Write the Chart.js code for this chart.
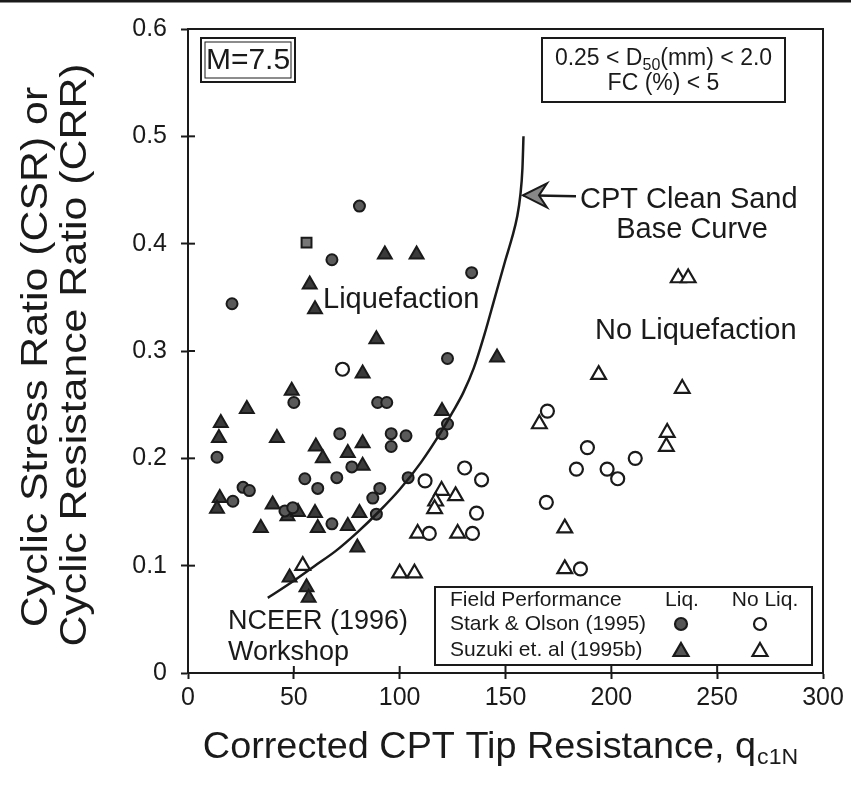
<!DOCTYPE html>
<html>
<head>
<meta charset="utf-8">
<script src="https://cdn.jsdelivr.net/npm/chart.js@4.4.1/dist/chart.umd.min.js"></script>
<style>
html, body { margin: 0; padding: 0; background: #fff; }
</style>
</head>
<body>
<canvas id="chart" width="851" height="785"></canvas>
<script>
// axis ticks
var xTicks = [0, 50, 100, 150, 200, 250, 300];
var yTicks = [0, 0.1, 0.2, 0.3, 0.4, 0.5, 0.6];

// CPT clean sand base curve
var curveX = [37.7, 50, 60, 70, 80, 90, 100, 110, 120, 125, 130, 135, 140, 145, 150, 153, 155.5, 157, 158, 158.5];
var curveY = [0.070, 0.086, 0.100, 0.114, 0.131, 0.150, 0.171, 0.196, 0.226, 0.243, 0.261, 0.284, 0.315, 0.350, 0.385, 0.405, 0.425, 0.445, 0.470, 0.500];

// Stark & Olson (1995) - liquefaction (filled circles)
var starkLiqX = [20.8, 81, 68, 134, 122.6, 50, 13.7, 71.7, 55.2, 61.3, 70.3, 26, 29, 21.2, 45.8, 49.5, 68, 89.6, 93.9, 122.6, 120, 96, 96, 103, 77.4, 104, 90.6, 87.3, 89];
var starkLiqY = [0.344, 0.435, 0.385, 0.373, 0.293, 0.252, 0.201, 0.223, 0.181, 0.172, 0.182, 0.173, 0.170, 0.160, 0.151, 0.154, 0.139, 0.252, 0.252, 0.232, 0.223, 0.223, 0.211, 0.221, 0.192, 0.182, 0.172, 0.163, 0.148];

// Stark & Olson (1995) - no liquefaction (open circles)
var starkNoX = [73, 112, 130.7, 138.7, 136.3, 114, 134.4, 169.8, 188.7, 211.3, 183.5, 198, 203, 169.3, 185.4];
var starkNoY = [0.283, 0.179, 0.191, 0.180, 0.149, 0.130, 0.130, 0.244, 0.210, 0.200, 0.190, 0.190, 0.181, 0.159, 0.097];

// Suzuki et al (1995b) - liquefaction (filled triangles)
var suzukiLiqX = [49, 27.8, 15.5, 14.6, 42, 60.4, 63.7, 75.5, 82.5, 82.5, 15, 13.7, 40, 47, 52, 34.4, 60, 61.3, 75.5, 81, 80, 48, 56, 57, 93, 108, 89, 82.5, 57.5, 60, 146, 120];
var suzukiLiqY = [0.263, 0.246, 0.233, 0.219, 0.219, 0.211, 0.200, 0.205, 0.193, 0.214, 0.163, 0.153, 0.157, 0.146, 0.150, 0.135, 0.149, 0.135, 0.137, 0.149, 0.117, 0.089, 0.080, 0.070, 0.390, 0.390, 0.311, 0.279, 0.362, 0.339, 0.294, 0.244];

// Suzuki et al (1995b) - no liquefaction (open triangles)
var suzukiNoX = [54.2, 119.8, 117, 116.5, 126.4, 108.5, 127.4, 100, 107, 194, 233.5, 166, 226.4, 226, 178, 178, 231.6, 236.3];
var suzukiNoY = [0.100, 0.170, 0.160, 0.153, 0.165, 0.130, 0.130, 0.093, 0.093, 0.278, 0.265, 0.232, 0.224, 0.211, 0.135, 0.097, 0.368, 0.368];

// single boxed liquefaction point
var boxLiqX = [56];
var boxLiqY = [0.401];

var FONT = '"Liberation Sans", Arial, sans-serif';
var INK = '#1a1a1a';

function pts(xs, ys) {
    return xs.map(function(x, i) { return { x: x, y: ys[i] }; });
}

// text and boxes drawn on top of the plot
var decorPlugin = {
    id: 'decor',
    afterDraw: function(chart) {
        var ctx = chart.ctx;
        var a = chart.chartArea;
        var sx = chart.scales.x, sy = chart.scales.y;
        function X(v) { return sx.getPixelForValue(v); }
        function Y(v) { return sy.getPixelForValue(v); }

        ctx.save();
        ctx.strokeStyle = INK;
        ctx.fillStyle = INK;

        // page edge line at the very top
        ctx.lineWidth = 3;
        ctx.beginPath(); ctx.moveTo(0, 1); ctx.lineTo(851, 1); ctx.stroke();

        // frame
        ctx.lineWidth = 2;
        ctx.strokeRect(a.left, a.top, a.right - a.left, a.bottom - a.top);

        // inner tick halves
        yTicks.forEach(function(v) {
            ctx.beginPath(); ctx.moveTo(a.left, Y(v)); ctx.lineTo(a.left + 7, Y(v)); ctx.stroke();
        });
        xTicks.forEach(function(v) {
            ctx.beginPath(); ctx.moveTo(X(v), a.bottom); ctx.lineTo(X(v), a.bottom - 7); ctx.stroke();
        });

        // y title (scan text is a little stretched, so widen it)
        ctx.font = '36px ' + FONT;
        ctx.textAlign = 'center';
        ctx.textBaseline = 'middle';
        ctx.save(); ctx.translate(37, 357); ctx.rotate(-Math.PI / 2); ctx.scale(1.19, 1);
        ctx.fillText('Cyclic Stress Ratio (CSR) or', 0, 0); ctx.restore();
        ctx.save(); ctx.translate(76, 355); ctx.rotate(-Math.PI / 2); ctx.scale(1.19, 1);
        ctx.fillText('Cyclic Resistance Ratio (CRR)', 0, 0); ctx.restore();

        // x title with subscript
        ctx.textBaseline = 'alphabetic';
        ctx.textAlign = 'left';
        var main = 'Corrected CPT Tip Resistance, q';
        ctx.font = '36px ' + FONT;
        var w1 = ctx.measureText(main).width;
        ctx.font = '22px ' + FONT;
        var w2 = ctx.measureText('c1N').width;
        ctx.save();
        ctx.translate(500 - (w1 + w2) * 1.05 / 2, 758);
        ctx.scale(1.05, 1);
        ctx.font = '36px ' + FONT;
        ctx.fillText(main, 0, 0);
        ctx.font = '22px ' + FONT;
        ctx.fillText('c1N', w1 + 1, 6);
        ctx.restore();

        // M=7.5 double box
        ctx.lineWidth = 2;
        ctx.strokeRect(201, 38, 94, 44);
        ctx.lineWidth = 1;
        ctx.strokeRect(205, 42, 86, 36);
        ctx.font = '30px ' + FONT;
        ctx.textAlign = 'center';
        ctx.textBaseline = 'middle';
        ctx.fillText('M=7.5', 248, 61);

        // D50 / FC box
        ctx.lineWidth = 2;
        ctx.strokeRect(542, 38, 243, 64);
        ctx.textAlign = 'left';
        ctx.font = '23px ' + FONT;
        var s1 = '0.25 < D', s3 = '(mm) < 2.0';
        var ws1 = ctx.measureText(s1).width, ws3 = ctx.measureText(s3).width;
        ctx.font = '16px ' + FONT;
        var ws2 = ctx.measureText('50').width;
        var bx = 663.5 - (ws1 + ws2 + ws3) / 2;
        ctx.font = '23px ' + FONT;
        ctx.fillText(s1, bx, 59);
        ctx.font = '16px ' + FONT;
        ctx.fillText('50', bx + ws1, 66);
        ctx.font = '23px ' + FONT;
        ctx.fillText(s3, bx + ws1 + ws2, 59);
        ctx.textAlign = 'center';
        ctx.fillText('FC (%) < 5', 663.5, 84);

        // region labels
        ctx.font = '29px ' + FONT;
        ctx.textAlign = 'left';
        ctx.fillText('Liquefaction', 323, 300);
        ctx.fillText('No Liquefaction', 595, 331);
        ctx.fillText('CPT Clean Sand', 580, 200);
        ctx.textAlign = 'center';
        ctx.fillText('Base Curve', 692, 230);
        ctx.textAlign = 'left';
        ctx.font = '27px ' + FONT;
        ctx.fillText('NCEER (1996)', 228, 622);
        ctx.fillText('Workshop', 228, 653);

        // arrow to the base curve
        var tipX = X(157.3), tipY = Y(0.445);
        ctx.lineWidth = 2.5;
        ctx.beginPath(); ctx.moveTo(576, tipY + 1); ctx.lineTo(tipX + 2, tipY); ctx.stroke();
        ctx.beginPath();
        ctx.moveTo(tipX + 26, tipY - 12);
        ctx.lineTo(tipX + 2, tipY);
        ctx.lineTo(tipX + 26, tipY + 12);
        ctx.lineTo(tipX + 18, tipY);
        ctx.closePath();
        ctx.fillStyle = '#888';
        ctx.fill();
        ctx.lineWidth = 2;
        ctx.stroke();
        ctx.fillStyle = INK;

        // legend box
        ctx.fillStyle = '#fff';
        ctx.fillRect(435, 587, 377, 78);
        ctx.fillStyle = INK;
        ctx.lineWidth = 2;
        ctx.strokeRect(435, 587, 377, 78);
        ctx.font = '21px ' + FONT;
        ctx.textAlign = 'left';
        ctx.fillText('Field Performance', 450, 600);
        ctx.fillText('Stark & Olson (1995)', 450, 624);
        ctx.fillText('Suzuki et. al (1995b)', 450, 650);
        ctx.textAlign = 'center';
        ctx.fillText('Liq.', 682, 600);
        ctx.fillText('No Liq.', 765, 600);

        function marker(style, filled, cx, cy) {
            ctx.beginPath();
            if (style === 'circle') {
                ctx.arc(cx, cy, 6, 0, Math.PI * 2);
            } else {
                ctx.moveTo(cx, cy - 8);
                ctx.lineTo(cx + 7.5, cy + 5);
                ctx.lineTo(cx - 7.5, cy + 5);
                ctx.closePath();
            }
            ctx.fillStyle = filled ? '#555' : '#fff';
            ctx.fill();
            ctx.lineWidth = 2.2;
            ctx.strokeStyle = INK;
            ctx.stroke();
        }
        marker('circle', true, 681, 624);
        marker('circle', false, 760, 624);
        marker('triangle', true, 681, 651);
        marker('triangle', false, 760, 651);

        ctx.restore();
    }
};

var ctx = document.getElementById('chart').getContext('2d');
new Chart(ctx, {
    type: 'scatter',
    data: {
        datasets: [
            {
                label: 'CPT Clean Sand Base Curve',
                type: 'line',
                data: pts(curveX, curveY),
                showLine: true,
                borderColor: INK,
                borderWidth: 2.5,
                pointRadius: 0,
                fill: false,
                cubicInterpolationMode: 'monotone'
            },
            {
                label: 'Stark & Olson (1995) Liq.',
                data: pts(starkLiqX, starkLiqY),
                pointStyle: 'circle',
                pointRadius: 5.5,
                backgroundColor: '#5a5a5a',
                borderColor: INK,
                borderWidth: 2
            },
            {
                label: 'Stark & Olson (1995) boxed',
                data: pts(boxLiqX, boxLiqY),
                pointStyle: 'rect',
                pointRadius: 7,
                backgroundColor: '#777',
                borderColor: INK,
                borderWidth: 2
            },
            {
                label: 'Stark & Olson (1995) No Liq.',
                data: pts(starkNoX, starkNoY),
                pointStyle: 'circle',
                pointRadius: 6.5,
                backgroundColor: '#fff',
                borderColor: INK,
                borderWidth: 2.2
            },
            {
                label: 'Suzuki et. al (1995b) Liq.',
                data: pts(suzukiLiqX, suzukiLiqY),
                pointStyle: 'triangle',
                pointRadius: 8,
                backgroundColor: '#3a3a3a',
                borderColor: INK,
                borderWidth: 2
            },
            {
                label: 'Suzuki et. al (1995b) No Liq.',
                data: pts(suzukiNoX, suzukiNoY),
                pointStyle: 'triangle',
                pointRadius: 8.5,
                backgroundColor: '#fff',
                borderColor: INK,
                borderWidth: 2.2
            }
        ]
    },
    options: {
        responsive: false,
        animation: false,
        devicePixelRatio: 1,
        layout: { padding: { left: 0, right: 28, top: 26, bottom: 0 } },
        plugins: {
            legend: { display: false },
            tooltip: { enabled: false }
        },
        scales: {
            x: {
                type: 'linear',
                min: 0,
                max: 300,
                afterFit: function(scale) { scale.height = 112; },
                afterBuildTicks: function(scale) {
                    scale.ticks = xTicks.map(function(v) { return { value: v }; });
                },
                grid: { drawOnChartArea: false, drawTicks: true, tickLength: 6, tickWidth: 2, tickColor: INK },
                border: { display: true, width: 2, color: INK },
                ticks: {
                    padding: 4,
                    color: INK,
                    font: { family: FONT, size: 25 }
                }
            },
            y: {
                type: 'linear',
                min: 0,
                max: 0.6,
                afterFit: function(scale) { scale.width = 188; },
                afterBuildTicks: function(scale) {
                    scale.ticks = yTicks.map(function(v) { return { value: v }; });
                },
                grid: { drawOnChartArea: false, drawTicks: true, tickLength: 7, tickWidth: 2, tickColor: INK },
                border: { display: true, width: 2, color: INK },
                ticks: {
                    padding: 14,
                    color: INK,
                    font: { family: FONT, size: 25 },
                    callback: function(v) { return v === 0 ? '0' : v.toFixed(1); }
                }
            }
        }
    },
    plugins: [decorPlugin]
});
</script>
</body>
</html>
